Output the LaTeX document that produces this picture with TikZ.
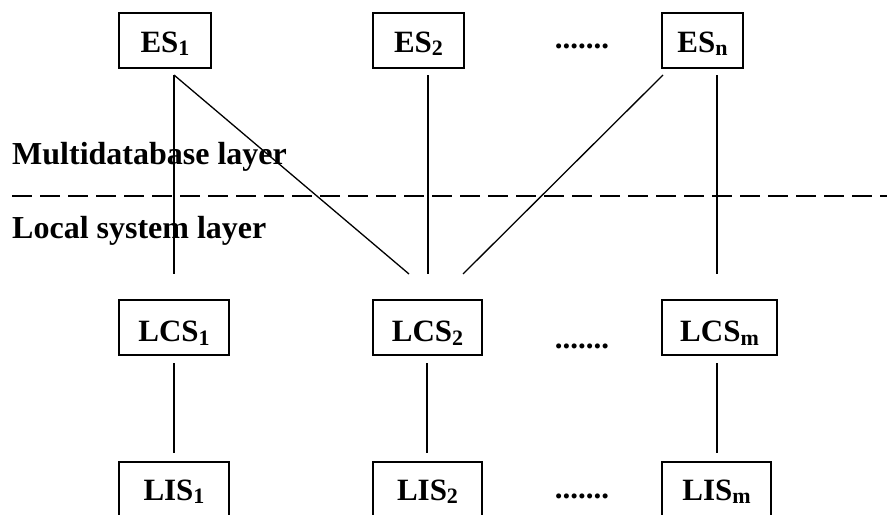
\documentclass[tikz,border=0pt]{standalone}
\usepackage{fontspec}
\setmainfont{Liberation Serif}
\newcommand\sbx[1]{\raisebox{-3.5pt}{\fontsize{22}{22}\selectfont\bfseries #1}}
\begin{document}
\begin{tikzpicture}[x=1pt,y=-1pt,
  box/.style={draw,line width=1.4pt,inner sep=0pt,text depth=0pt,font=\fontsize{31}{33}\selectfont\bfseries},
  conn/.style={line width=1.3pt},
  lbl/.style={anchor=base west,inner sep=0pt,font=\fontsize{32}{34}\selectfont\bfseries},
  dots/.style={anchor=base,inner sep=0pt,font=\fontsize{31}{33}\selectfont\bfseries}]
\useasboundingbox (0,0) rectangle (890,514);
\begin{scope}
\clip (0,0) rectangle (890,514);
% top row
\node[box,text height=23pt,minimum width=92pt,minimum height=55pt] (ES1) at (165,40.5) {ES\sbx{1}};
\node[box,text height=23pt,minimum width=91pt,minimum height=55pt] (ES2) at (418.5,40.5) {ES\sbx{2}};
\node[box,text height=23pt,minimum width=81pt,minimum height=55pt] (ESn) at (702.5,40.5) {ES\sbx{n}};
\node[dots] (d1) at (582,48) {.......};
% middle row
\node[box,text height=28pt,minimum width=110pt,minimum height=55pt] (LCS1) at (174,327.5) {LCS\sbx{1}};
\node[box,text height=28pt,minimum width=109pt,minimum height=55pt] (LCS2) at (427.5,327.5) {LCS\sbx{2}};
\node[box,text height=28pt,minimum width=115pt,minimum height=55pt] (LCSm) at (719.5,327.5) {LCS\sbx{m}};
\node[dots] (d2) at (582,348) {.......};
% bottom row
\node[box,text height=21pt,minimum width=110pt,minimum height=55pt] (LIS1) at (174,489.5) {LIS\sbx{1}};
\node[box,text height=21pt,minimum width=109pt,minimum height=55pt] (LIS2) at (427.5,489.5) {LIS\sbx{2}};
\node[box,text height=21pt,minimum width=109pt,minimum height=55pt] (LISm) at (716.5,489.5) {LIS\sbx{m}};
\node[dots] (d3) at (582,498) {.......};
\end{scope}
% layer labels
\node[lbl] (ml) at (12,164) {Multidatabase layer};
\node[lbl] (ll) at (12,238) {Local system layer};
% dashed separator
\coordinate (dl) at (12,196);
\coordinate (dr) at (887,196);
\draw[line width=2.4pt,dash pattern=on 20pt off 8pt] (dl) -- (dr);
% connector end points
\coordinate (a1) at (174,75);   \coordinate (b1) at (174,274);
\coordinate (b1d) at (409,274);
\coordinate (a2) at (428,75);   \coordinate (b2) at (428,274);
\coordinate (an) at (663,75);   \coordinate (bnd) at (463,274);
\coordinate (an2) at (717,75);  \coordinate (bn) at (717,274);
\draw[conn] (a1) -- (b1);
\draw[conn] (a1) -- (b1d);
\draw[conn] (a2) -- (b2);
\draw[conn] (an) -- (bnd);
\draw[conn] (an2) -- (bn);
% lower connectors
\coordinate (c1) at (174,363); \coordinate (e1) at (174,453);
\coordinate (c2) at (427,363); \coordinate (e2) at (427,453);
\coordinate (cm) at (717,363); \coordinate (em) at (717,453);
\draw[conn] (c1) -- (e1);
\draw[conn] (c2) -- (e2);
\draw[conn] (cm) -- (em);
\end{tikzpicture}
\end{document}
